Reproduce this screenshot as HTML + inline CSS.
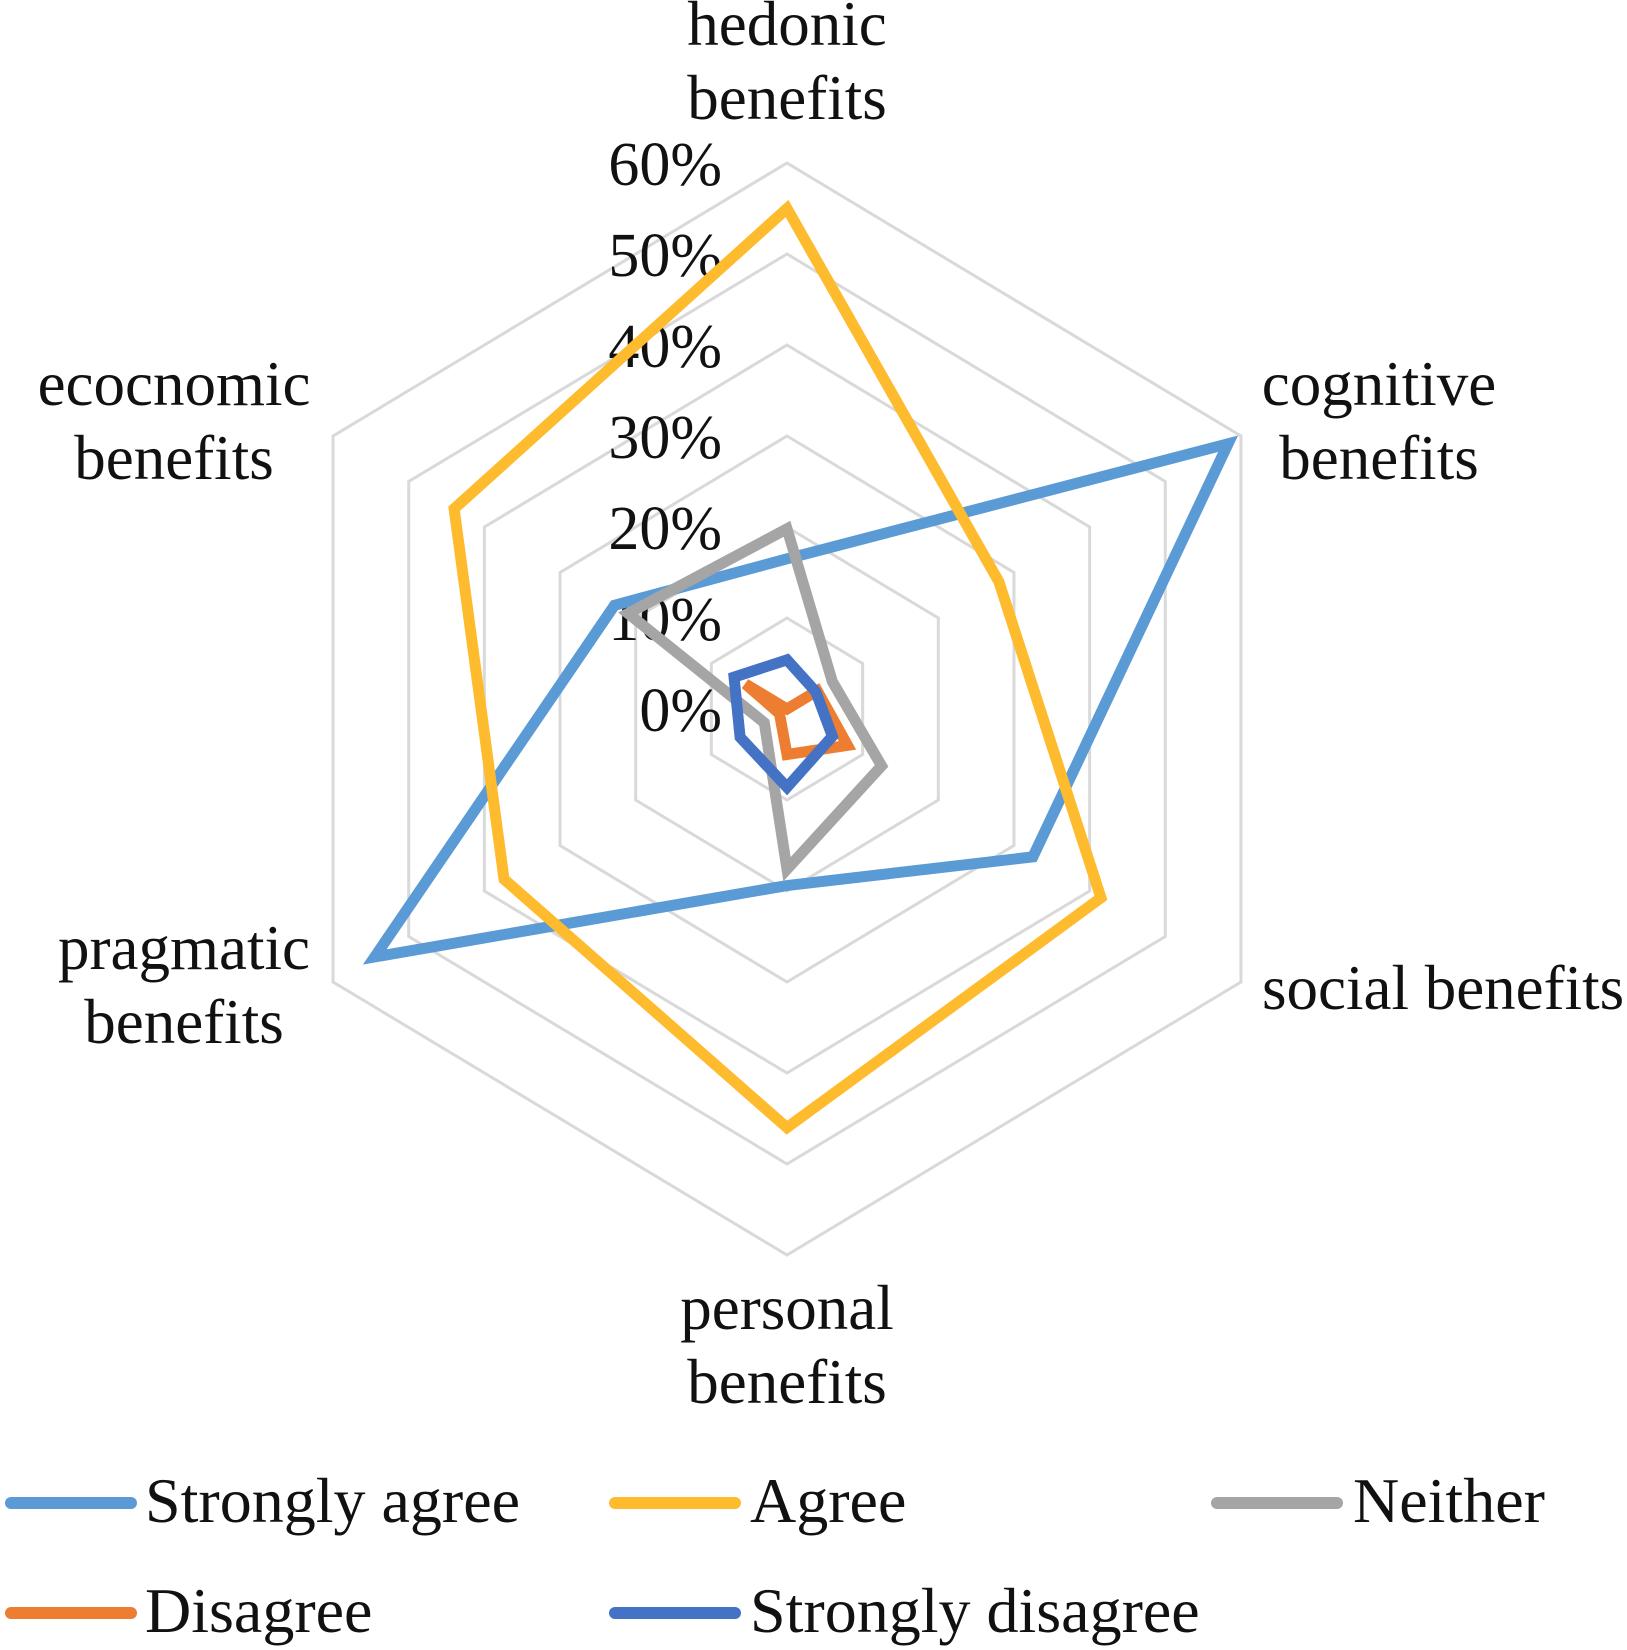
<!DOCTYPE html>
<html><head><meta charset="utf-8"><style>
html,body{margin:0;padding:0;background:#fff;}
svg{display:block;font-family:"Liberation Serif",serif;}
</style></head><body>
<svg id="chart" width="1627" height="1650" viewBox="0 0 1627 1650" xmlns="http://www.w3.org/2000/svg">
<g id="grid"></g>
<g id="ticks"></g>
<g id="series"></g>
<g id="cats"></g>
<g id="legend"></g>
</svg>
<script>
const categories = ["hedonic benefits","cognitive benefits","social benefits","personal benefits","pragmatic benefits","ecocnomic benefits"];
const tickLabels = ["0%","10%","20%","30%","40%","50%","60%"];
const tickValues = [0,10,20,30,40,50,60];
const seriesNames = ["Strongly agree","Agree","Neither","Disagree","Strongly disagree"];
const stronglyAgree = [16.5,58.3,32.5,19.4,54.5,22.8];
const agree = [55,28,41.5,46,37.4,44];
const neither = [19.8,6,12.5,17.6,3,21];
const disagree = [0,4,8,5,1,5.5];
const stronglyDisagree = [5.4,3.8,6,8.6,6.2,7];
const seriesValues = [stronglyAgree, agree, neither, disagree, stronglyDisagree];
const seriesColors = ["#5b9bd5","#fdbb2d","#a5a5a5","#ed7d31","#4472c4"];

const NS = "http://www.w3.org/2000/svg";
const cx = 787, cy = 709, R = 546, maxV = 60, xs = 0.96;
function rScale(v){ return v / maxV * R; }
function angle(i){ return -Math.PI/2 + i * 2*Math.PI/categories.length; }
function pt(i, v){ const a = angle(i), r = rScale(v); return [cx + r*Math.cos(a)*xs, cy + r*Math.sin(a)]; }
function mk(tag, attrs, parent){ const e = document.createElementNS(NS, tag); for (const k in attrs) e.setAttribute(k, attrs[k]); parent.appendChild(e); return e; }

const grid = document.getElementById('grid');
tickValues.forEach((t, ti) => {
  const pts = categories.map((c, i) => pt(i, t).join(',')).join(' ');
  const p = mk('polygon', {points: pts, fill: 'none', stroke: '#d9d9d9', 'stroke-width': 3}, grid);
  
  
});

const ticks = document.getElementById('ticks');
tickValues.forEach((t, ti) => {
  const e = mk('text', {x: 722, y: cy - rScale(t) + 22, 'text-anchor': 'end', 'font-size': 62, fill: '#111'}, ticks);
  e.textContent = tickLabels[ti];
  
  
});

const sg = document.getElementById('series');
seriesValues.forEach((vals, si) => {
  const pts = vals.map((v, i) => pt(i, v).join(',')).join(' ');
  const p = mk('polygon', {points: pts, fill: 'none', stroke: seriesColors[si], 'stroke-width': 11, 'stroke-linejoin': 'miter'}, sg);
  
  
});

const catPos = [
  {x:787, y:[45,119], a:'middle', lines:['hedonic','benefits']},
  {x:1379, y:[405,479], a:'middle', lines:['cognitive','benefits']},
  {x:1262, y:[1009], a:'start', lines:['social benefits']},
  {x:787, y:[1329,1403], a:'middle', lines:['personal','benefits']},
  {x:184, y:[969,1043], a:'middle', lines:['pragmatic','benefits']},
  {x:174, y:[405,479], a:'middle', lines:['ecocnomic','benefits']}
];
const cg = document.getElementById('cats');
catPos.forEach((c, i) => {
  const t = mk('text', {'text-anchor': c.a, 'font-size': 63, fill: '#111'}, cg);
  
  
  c.lines.forEach((ln, j) => {
    const s = mk('tspan', {x: c.x, y: c.y[j]}, t);
    s.textContent = ln;
  });
});

const legPos = [
  {sx:5, tx:145, y:1522},
  {sx:609, tx:750, y:1522},
  {sx:1211, tx:1353, y:1522},
  {sx:5, tx:145, y:1632},
  {sx:609, tx:750, y:1632}
];
const lg = document.getElementById('legend');
seriesNames.forEach((n, i) => {
  const p = legPos[i];
  const g = mk('g', {}, lg);
  
  
  mk('line', {x1: p.sx + 6, y1: p.y - 19, x2: p.sx + 126, y2: p.y - 19, stroke: seriesColors[i], 'stroke-width': 12, 'stroke-linecap': 'round'}, g);
  const t = mk('text', {x: p.tx, y: p.y, 'font-size': 64, fill: '#111'}, g);
  t.textContent = n;
});
</script>
</body></html>
